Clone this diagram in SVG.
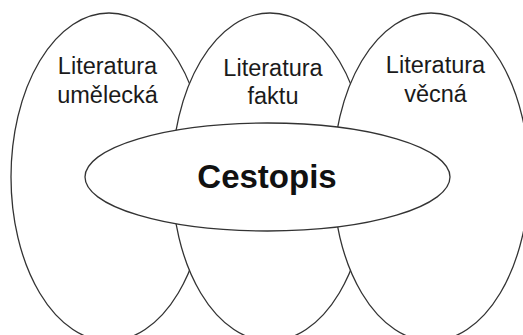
<svg xmlns="http://www.w3.org/2000/svg" width="523" height="335" viewBox="0 0 523 335">
<style>
.e{fill:#fff;stroke:#333;stroke-width:1.3}
.t{font-family:"Liberation Sans",Arial,sans-serif;font-size:23.5px;fill:#1a1a1a;text-anchor:middle}
.b{font-family:"Liberation Sans",Arial,sans-serif;font-size:33px;font-weight:bold;fill:#111;text-anchor:middle}
</style>
<rect width="523" height="335" fill="#fff"/>
<g id="umelecka">
<ellipse class="e" cx="109" cy="177" rx="98" ry="164"/>
<text class="t" x="107.5" y="74">Literatura</text>
<text class="t" x="107.5" y="103">umělecká</text>
</g>
<g id="faktu">
<ellipse class="e" cx="270" cy="177" rx="98" ry="164"/>
<text class="t" x="273" y="76">Literatura</text>
<text class="t" x="273" y="104">faktu</text>
</g>
<g id="vecna">
<ellipse class="e" cx="431" cy="177" rx="98" ry="164"/>
<text class="t" x="435.5" y="73">Literatura</text>
<text class="t" x="435.5" y="102">věcná</text>
</g>
<g id="cestopis">
<ellipse class="e" cx="267.5" cy="177" rx="182.5" ry="54"/>
<text class="b" x="267" y="188">Cestopis</text>
</g>
<g id="connectors"></g>
</svg>
